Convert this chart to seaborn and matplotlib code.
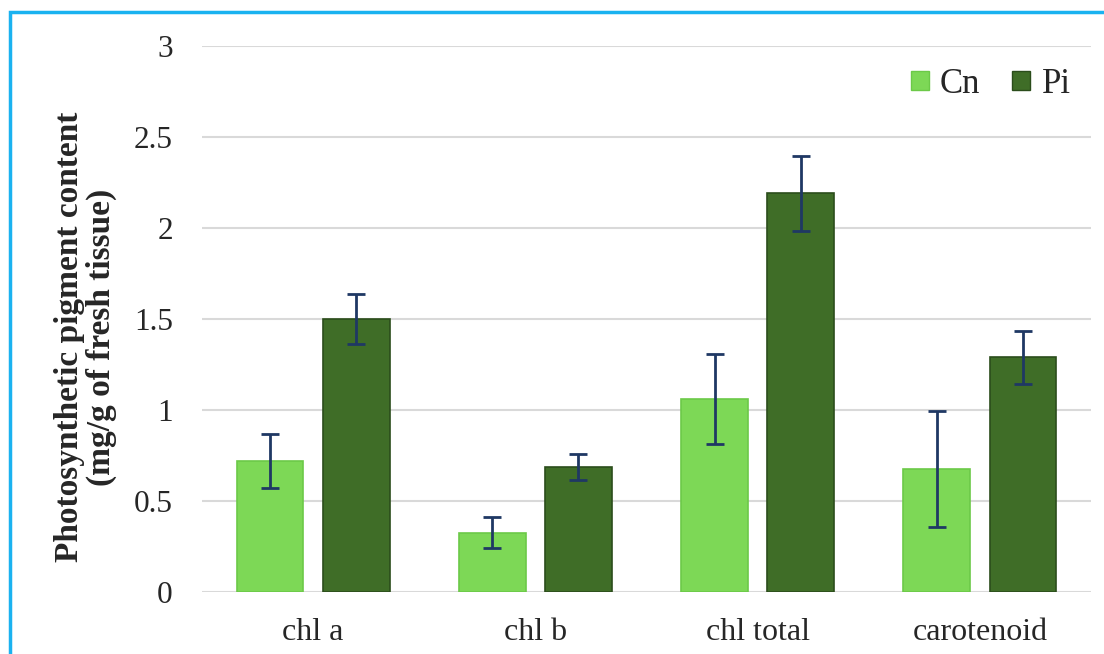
import matplotlib
matplotlib.use("Agg")
import matplotlib.pyplot as plt
import matplotlib.patches as mpatches
import pandas as pd
import seaborn as sns

categories = ["chl a", "chl b", "chl total", "carotenoid"]
cn_values = [0.72, 0.325, 1.06, 0.675]
pi_values = [1.50, 0.687, 2.19, 1.29]
cn_err = [0.15, 0.085, 0.245, 0.32]
pi_err = [0.135, 0.072, 0.205, 0.145]
groups = ["Cn", "Pi"]
yticks = [0, 0.5, 1, 1.5, 2, 2.5, 3]
ytick_labels = ["0", "0.5", "1", "1.5", "2", "2.5", "3"]

sns.set_style("white")
plt.rcParams["font.family"] = ["Liberation Serif", "DejaVu Serif"]

df = pd.DataFrame({
    "category": categories * 2,
    "group": ["Cn"] * 4 + ["Pi"] * 4,
    "value": cn_values + pi_values,
})

fig = plt.figure(figsize=(11.04, 6.54), dpi=100)
ax = fig.add_axes([202 / 1104, (654 - 592) / 654, (1091 - 202) / 1104, (592 - 46) / 654])

palette = {"Cn": "#7dd856", "Pi": "#3f6d27"}
sns.barplot(data=df, x="category", y="value", hue="group", order=categories,
            hue_order=groups, palette=palette, width=0.776, gap=0.227,
            errorbar=None, saturation=1, ax=ax, zorder=2)

edge = {"Cn": "#6cc948", "Pi": "#2b4d1b"}
errs = {"Cn": cn_err, "Pi": pi_err}
vals = {"Cn": cn_values, "Pi": pi_values}
for g, cont in zip(groups, ax.containers):
    xs = []
    for bar in cont:
        bar.set_edgecolor(edge[g])
        bar.set_linewidth(1.2)
        xs.append(bar.get_x() + bar.get_width() / 2)
    ax.errorbar(xs, vals[g], yerr=errs[g], fmt="none", ecolor="#1f3864",
                elinewidth=2, capsize=6.5, capthick=2, zorder=3)

ax.set_ylim(0, 3)
ax.set_xlim(-0.5, 3.5)
ax.set_yticks(yticks)
ax.set_yticklabels(ytick_labels, fontsize=22.5)
ax.tick_params(axis="x", labelsize=23, length=0, pad=19)
ax.tick_params(axis="y", length=0, pad=21)
ax.yaxis.grid(True, color="#d9d9d9", linewidth=1.5, zorder=0)
ax.set_axisbelow(True)
for s in ax.spines.values():
    s.set_visible(False)
ax.set_xlabel("")
ax.set_ylabel("Photosynthetic pigment content\n(mg/g of fresh tissue)",
              fontsize=24, fontweight="bold", labelpad=12, linespacing=1.05)
ax.yaxis.label.set_y(0.467)

handles = [mpatches.Patch(facecolor=palette[g], edgecolor=edge[g]) for g in groups]
ax.legend(handles, groups, loc="center right", bbox_to_anchor=(0.977, 0.93),
          ncol=2, frameon=False, fontsize=25, handlelength=0.52,
          handleheight=0.46, handletextpad=0.32, columnspacing=0.92,
          borderpad=0, borderaxespad=0)

border = mpatches.Rectangle((10 / 1104, -0.1), 1.2, 1.1 - 12 / 654,
                            transform=fig.transFigure, fill=False,
                            edgecolor="#1ab2f0", linewidth=2.5, clip_on=False)
fig.patches.append(border)

fig.savefig("out.png", dpi=100)
